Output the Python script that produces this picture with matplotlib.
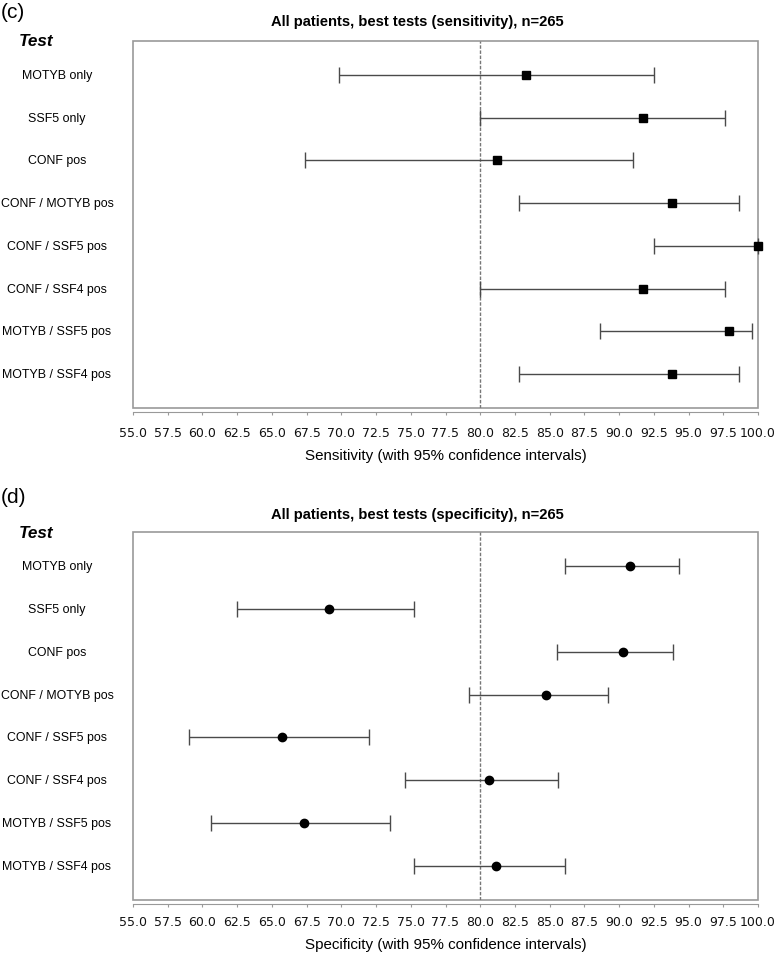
import matplotlib
matplotlib.use("Agg")
import matplotlib.pyplot as plt
import matplotlib.transforms as mtransforms
from matplotlib.patches import Rectangle
import numpy as np

W, H = 775, 954

tests = ["MOTYB only", "SSF5 only", "CONF pos", "CONF / MOTYB pos",
         "CONF / SSF5 pos", "CONF / SSF4 pos", "MOTYB / SSF5 pos",
         "MOTYB / SSF4 pos"]

# sensitivity (%), with 95% CI
sens = [83.3, 91.7, 81.2, 93.8, 100.0, 91.7, 97.9, 93.8]
sens_lo = [69.8, 80.0, 67.4, 82.8, 92.5, 80.0, 88.6, 82.8]
sens_hi = [92.5, 97.6, 91.0, 98.6, 100.0, 97.6, 99.6, 98.6]

# specificity (%), with 95% CI
spec = [90.8, 69.1, 90.3, 84.7, 65.7, 80.6, 67.3, 81.1]
spec_lo = [86.1, 62.5, 85.5, 79.2, 59.0, 74.6, 60.6, 75.2]
spec_hi = [94.3, 75.2, 93.9, 89.2, 72.0, 85.6, 73.5, 86.1]

xticks = np.arange(55.0, 100.01, 2.5)
cutoff = 80.0

fig = plt.figure(figsize=(W / 100, H / 100), dpi=100)


def px(x, y):
    return x / W, 1 - y / H


def panel(box_top, box_bot, est, lo, hi, marker, ms, title, xlabel, tag,
          tag_y, test_y, title_y, xlabel_y, pad):
    left, right = 133, 758
    ax = fig.add_axes([left / W, (H - box_bot) / H, (right - left) / W,
                       (box_bot - box_top) / H])
    rows = np.arange(1, len(tests) + 1)
    est = np.array(est)
    err = [est - np.array(lo), np.array(hi) - est]
    eb = ax.errorbar(est, rows, xerr=err, fmt=marker, ms=ms, color="black",
                     ecolor="#4a4a4a", elinewidth=1.0, capsize=5.7,
                     capthick=1.0, zorder=3)
    for a in eb.get_children():
        a.set_clip_on(False)
    ax.axvline(cutoff, color="#777777", ls=(0, (2.5, 1.2)), lw=1.0, zorder=2)
    ax.set_xlim(55, 100)
    ax.set_ylim(8.79, 0.21)
    ax.set_yticks([])
    ax.set_xticks(xticks)
    ax.set_xticklabels(["%.1f" % t for t in xticks])
    for s in ["top", "left", "right"]:
        ax.spines[s].set_visible(False)
    ax.spines["bottom"].set_position(("outward", 3))
    ax.spines["bottom"].set_color("#999999")
    ax.tick_params(axis="x", direction="out", length=2, color="#999999",
                   labelsize=9.0, pad=pad)
    for lab in ax.get_xticklabels():
        lab.set_family("DejaVu Sans")
        lab.set_color("#111111")
    ax.add_patch(Rectangle((0, 0), 1, 1, transform=ax.transAxes, fill=False,
                           edgecolor="#999999", lw=1.2, clip_on=False))

    # test names on the left, centred in their own column
    tr = mtransforms.blended_transform_factory(fig.transFigure, ax.transData)
    for r, name in zip(rows, tests):
        ax.text(57 / W, r, name, transform=tr, ha="center", va="center",
                fontsize=8.9, family="Liberation Sans")

    fig.text(*px(1, tag_y), tag, ha="left", va="center", fontsize=15,
             family="Liberation Sans")
    fig.text(*px(36, test_y), "Test", ha="center", va="center", fontsize=12.3,
             weight="bold", style="italic", family="Liberation Sans")
    fig.text(*px(417, title_y), title, ha="center", va="center",
             fontsize=10.6, weight="bold", family="Liberation Sans")
    fig.text(*px(446, xlabel_y), xlabel, ha="center", va="center",
             fontsize=10.9, family="Liberation Sans")
    return ax


panel(42, 409, sens, sens_lo, sens_hi, "s", 6.2,
      "All patients, best tests (sensitivity), n=265",
      "Sensitivity (with 95% confidence intervals)", "(c)",
      12, 42, 22, 456, 8)

panel(533, 901, spec, spec_lo, spec_hi, "o", 6.0,
      "All patients, best tests (specificity), n=265",
      "Specificity (with 95% confidence intervals)", "(d)",
      498, 533, 515, 945, 5.5)

fig.savefig("out.png", dpi=100)
